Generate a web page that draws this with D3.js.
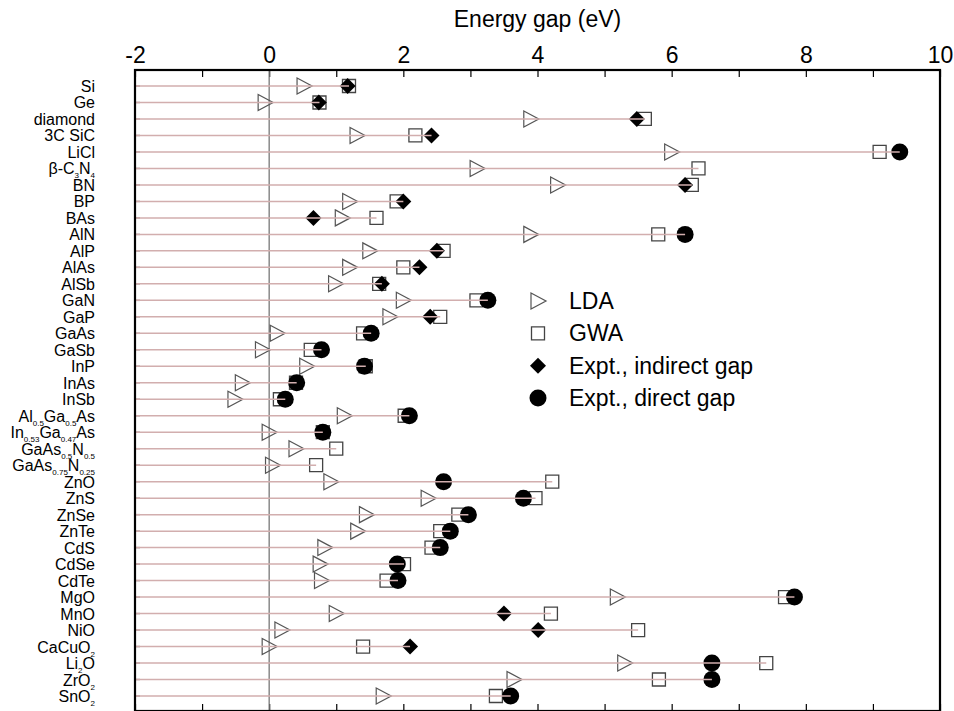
<!DOCTYPE html>
<html>
<head>
<meta charset="utf-8">
<script src="https://cdn.jsdelivr.net/npm/d3@7/dist/d3.min.js"></script>
<style>
  body { margin: 0; background: #fff; }
  svg { display: block; font-family: "Liberation Sans", Arial, Helvetica, sans-serif; }
</style>
</head>
<body>
<svg id="chart" width="954" height="711"></svg>
<script>
// materials, top to bottom; _{..} marks a subscript
const materials = ["Si", "Ge", "diamond", "3C SiC", "LiCl", "β-C_{3}N_{4}", "BN", "BP", "BAs", "AlN",
    "AlP", "AlAs", "AlSb", "GaN", "GaP", "GaAs", "GaSb", "InP", "InAs", "InSb",
    "Al_{0.5}Ga_{0.5}As", "In_{0.53}Ga_{0.47}As", "GaAs_{0.5}N_{0.5}", "GaAs_{0.75}N_{0.25}",
    "ZnO", "ZnS", "ZnSe", "ZnTe", "CdS", "CdSe", "CdTe", "MgO", "MnO", "NiO",
    "CaCuO_{2}", "Li_{2}O", "ZrO_{2}", "SnO_{2}"];

const ldaGap = [0.52, -0.06, 3.9, 1.31, 6.0, 3.1, 4.3, 1.2, 1.09, 3.9,
    1.5, 1.2, 0.99, 2.0, 1.8, 0.12, -0.1, 0.56, -0.4, -0.51,
    1.12, 0.0, 0.4, 0.05, 0.92, 2.37, 1.45, 1.32, 0.83, 0.76,
    0.78, 5.19, 1.0, 0.19, 0.0, 5.3, 3.65, 1.7];

const gwaGap = [1.19, 0.75, 5.6, 2.18, 9.1, 6.4, 6.3, 1.9, 1.6, 5.8,
    2.6, 2.0, 1.64, 3.09, 2.55, 1.4, 0.62, 1.44, 0.40, 0.16,
    2.02, 0.80, 1.0, 0.7, 4.22, 3.97, 2.82, 2.55, 2.42, 2.01,
    1.75, 7.69, 4.2, 5.5, 1.4, 7.41, 5.81, 3.38];

const exptIndirect = [1.17, 0.74, 5.48, 2.42, null, null, 6.2, 2.0, 0.66, null,
    2.5, 2.24, 1.68, null, 2.4, null, null, null, null, null,
    null, null, null, null, null, null, null, null, null, null,
    null, null, 3.5, 4.01, 2.1, null, null, null];

const exptDirect = [null, null, null, null, 9.4, null, null, null, null, 6.2,
    null, null, null, 3.26, null, 1.52, 0.78, 1.42, 0.41, 0.24,
    2.09, 0.8, null, null, 2.6, 3.79, 2.97, 2.7, 2.55, 1.91,
    1.92, 7.83, null, null, null, 6.6, 6.6, 3.6];

const xTicks = d3.range(-2, 11, 1);
const legendLabels = ["LDA", "GWA", "Expt., indirect gap", "Expt., direct gap"];

const svg = d3.select("#chart");
const plot = { left: 135, right: 940, top: 70, bottom: 711 };

const x = d3.scaleLinear().domain([-2, 10]).range([plot.left, plot.right]);
const y = d3.scalePoint().domain(d3.range(materials.length)).range([86, 696]);

const rows = materials.map((name, i) => ({
    name, i,
    lda: ldaGap[i], gwa: gwaGap[i], ind: exptIndirect[i], dir: exptDirect[i]
}));

// title
svg.append("text")
    .attr("x", (plot.left + plot.right) / 2).attr("y", 27)
    .attr("text-anchor", "middle")
    .style("font-size", "23px")
    .text("Energy gap (eV)");

// top axis, ticks pointing into the plot
const topAxis = svg.append("g")
    .attr("transform", `translate(0,${plot.top})`)
    .call(d3.axisTop(x).tickValues(xTicks).tickSizeInner(-7).tickSizeOuter(0).tickPadding(7)
        .tickFormat(d => d % 2 === 0 ? d : ""));
topAxis.select(".domain").remove();
topAxis.selectAll("text").style("font-size", "23px").style("font-family", "inherit").attr("fill", "#000");
topAxis.selectAll("line").attr("stroke", "#000").attr("stroke-width", 1.2);

const bottomAxis = svg.append("g")
    .attr("transform", `translate(0,${plot.bottom})`)
    .call(d3.axisBottom(x).tickValues(xTicks).tickSizeInner(-7).tickSizeOuter(0).tickFormat(""));
bottomAxis.select(".domain").remove();
bottomAxis.selectAll("line").attr("stroke", "#000").attr("stroke-width", 1.2);

// zero line
svg.append("line")
    .attr("x1", x(0)).attr("x2", x(0))
    .attr("y1", plot.top).attr("y2", plot.bottom)
    .attr("stroke", "#787878").attr("stroke-width", 1.3);

// small row ticks on the left edge
svg.append("g").selectAll("line")
    .data(rows).join("line")
    .attr("x1", plot.left).attr("x2", plot.left + 5)
    .attr("y1", d => y(d.i)).attr("y2", d => y(d.i))
    .attr("stroke", "#a09090").attr("stroke-width", 1.5);

// row labels with subscripts
const labels = svg.append("g").selectAll("text")
    .data(rows).join("text")
    .attr("x", 95).attr("y", d => y(d.i) + 6)
    .attr("text-anchor", "end")
    .style("font-size", "16px");
labels.each(function(d) {
    const t = d3.select(this);
    let shifted = false;
    d.name.split(/(_\{[^}]*\})/).filter(s => s).forEach(part => {
        if (part.startsWith("_{")) {
            t.append("tspan").attr("dy", 4).style("font-size", "8px").text(part.slice(2, -1));
            shifted = true;
        } else {
            t.append("tspan").attr("dy", shifted ? -4 : null).text(part);
            shifted = false;
        }
    });
});

// marker shapes
const triPath = "M-7,-8L8,0L-7,8Z";
const squarePath = "M-6.5,-6.5H6.5V6.5H-6.5Z";
const diamondPath = "M0,-8L8,0L0,8L-8,0Z";

const marks = svg.append("g");
marks.selectAll(".lda")
    .data(rows).join("path")
    .attr("class", "lda")
    .attr("d", triPath)
    .attr("transform", d => `translate(${x(d.lda)},${y(d.i)})`)
    .attr("fill", "none").attr("stroke", "#555").attr("stroke-width", 1.2);
marks.selectAll(".gwa")
    .data(rows).join("path")
    .attr("class", "gwa")
    .attr("d", squarePath)
    .attr("transform", d => `translate(${x(d.gwa)},${y(d.i)})`)
    .attr("fill", "none").attr("stroke", "#444").attr("stroke-width", 1.3);
marks.selectAll(".ind")
    .data(rows.filter(d => d.ind !== null)).join("path")
    .attr("class", "ind")
    .attr("d", diamondPath)
    .attr("transform", d => `translate(${x(d.ind)},${y(d.i)})`)
    .attr("fill", "#000");
marks.selectAll(".dir")
    .data(rows.filter(d => d.dir !== null)).join("circle")
    .attr("class", "dir")
    .attr("cx", d => x(d.dir)).attr("cy", d => y(d.i)).attr("r", 8.5)
    .attr("fill", "#000");

// row lines from the left edge to the largest value
svg.append("g").selectAll("line")
    .data(rows).join("line")
    .attr("x1", plot.left).attr("y1", d => y(d.i)).attr("y2", d => y(d.i))
    .attr("x2", d => x(d3.max([d.lda, d.gwa, d.ind, d.dir].filter(v => v !== null))))
    .attr("stroke", "#d2aeae").attr("stroke-width", 1.5);

// frame
svg.append("rect")
    .attr("x", plot.left).attr("y", plot.top)
    .attr("width", plot.right - plot.left).attr("height", plot.bottom - plot.top)
    .attr("fill", "none").attr("stroke", "#000").attr("stroke-width", 2.2);

// legend
const legend = svg.append("g");
const legendY = d3.scalePoint().domain(d3.range(legendLabels.length)).range([301, 398]);
const legendShapes = [
    g => g.append("path").attr("d", triPath).attr("fill", "none").attr("stroke", "#555").attr("stroke-width", 1.2),
    g => g.append("path").attr("d", squarePath).attr("fill", "none").attr("stroke", "#444").attr("stroke-width", 1.3),
    g => g.append("path").attr("d", diamondPath).attr("fill", "#000"),
    g => g.append("circle").attr("r", 8.5).attr("fill", "#000")
];
legendLabels.forEach((label, i) => {
    const g = legend.append("g").attr("transform", `translate(538,${legendY(i)})`);
    legendShapes[i](g);
    g.append("text").attr("x", 31).attr("y", 8).style("font-size", "23px").text(label);
});
</script>
</body>
</html>
